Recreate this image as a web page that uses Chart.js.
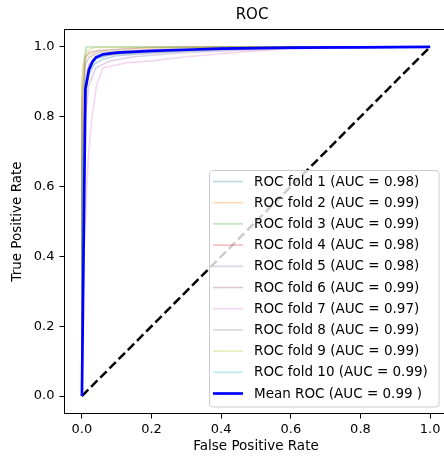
<!DOCTYPE html>
<html>
<head>
<meta charset="utf-8">
<script src="https://cdn.jsdelivr.net/npm/chart.js@4.4.1/dist/chart.umd.min.js"></script>
<style>
  html, body { margin: 0; padding: 0; background: #fff; overflow: hidden; }
  canvas { display: block; }
</style>
</head>
<body>
<canvas id="myChart" width="452" height="462"></canvas>
<script>
// ROC points per fold, [fpr, tpr]
const fold1 = [[0,0],[0,0.55],[0.005,0.75],[0.01,0.86],[0.02,0.92],[0.035,0.95],[0.06,0.965],[0.1,0.975],[0.2,0.982],[0.3,0.988],[0.5,0.995],[0.7,1],[1,1]];
const fold2 = [[0,0],[0,0.9],[0.005,0.95],[0.01,0.97],[0.02,0.98],[0.05,0.99],[0.15,0.995],[0.3,1],[1,1]];
const fold3 = [[0,0],[0,0.3],[0.008,0.97],[0.012,1],[1,1]];
const fold4 = [[0,0],[0,0.7],[0.01,0.9],[0.02,0.95],[0.04,0.97],[0.1,0.98],[0.3,0.99],[0.6,1],[1,1]];
const fold5 = [[0,0],[0,0.4],[0.01,0.8],[0.02,0.89],[0.04,0.94],[0.08,0.96],[0.15,0.972],[0.3,0.984],[0.5,0.992],[0.8,1],[1,1]];
const fold6 = [[0,0],[0,0.8],[0.01,0.95],[0.02,0.97],[0.05,0.985],[0.15,0.99],[0.4,1],[1,1]];
const fold7 = [[0,0],[0,0.3],[0.01,0.5],[0.018,0.68],[0.028,0.79],[0.042,0.89],[0.06,0.94],[0.13,0.955],[0.2,0.96],[0.3,0.972],[0.45,0.985],[0.6,0.995],[1,1]];
const fold8 = [[0,0],[0,0.85],[0.01,0.97],[0.02,0.985],[0.05,0.99],[0.2,1],[1,1]];
const fold9 = [[0,0],[0,0.88],[0.005,0.96],[0.015,0.99],[0.04,1],[1,1]];
const fold10 = [[0,0],[0,0.6],[0.01,0.86],[0.02,0.93],[0.04,0.965],[0.08,0.978],[0.2,0.987],[0.4,0.995],[0.7,1],[1,1]];
const meanRoc = [[0,0],[0.0101,0.88],[0.0202,0.935],[0.0303,0.958],[0.0404,0.97],[0.0606,0.979],[0.101,0.984],[0.2,0.989],[0.3,0.992],[0.4,0.995],[0.6,0.998],[0.8,0.999],[1,1]];
const chance = [[0,0],[1,1]];

const folds = [fold1, fold2, fold3, fold4, fold5, fold6, fold7, fold8, fold9, fold10];
const foldAuc = [0.98, 0.99, 0.99, 0.98, 0.98, 0.99, 0.97, 0.99, 0.99, 0.99];
const meanAuc = 0.99;
const foldColors = ['#1f77b4', '#ff7f0e', '#2ca02c', '#d62728', '#9467bd', '#8c564b', '#e377c2', '#7f7f7f', '#bcbd22', '#17becf'];
const xTicks = [0, 0.2, 0.4, 0.6, 0.8, 1.0];
const yTicks = [0, 0.2, 0.4, 0.6, 0.8, 1.0];

const FONT = 'DejaVu Sans';

function alpha(hex, a) {
    const n = parseInt(hex.slice(1), 16);
    return `rgba(${(n >> 16) & 255}, ${(n >> 8) & 255}, ${n & 255}, ${a})`;
}
const toXY = pts => pts.map(p => ({ x: p[0], y: p[1] }));

const datasets = folds.map((f, i) => ({
    label: `ROC fold ${i + 1} (AUC = ${foldAuc[i].toFixed(2)})`,
    data: toXY(f),
    borderColor: alpha(foldColors[i], 0.3),
    borderWidth: 1.6,
    order: 12 - i
}));
datasets.push({
    label: '',
    data: toXY(chance),
    borderColor: '#000',
    borderWidth: 2.5,
    borderDash: [9, 4],
    order: 1
});
datasets.push({
    label: `Mean ROC (AUC = ${meanAuc.toFixed(2)} )`,
    data: toXY(meanRoc),
    borderColor: '#0000ff',
    borderWidth: 2.7,
    order: 0
});

// axes frame + title
const framePlugin = {
    id: 'frame',
    afterDraw(chart) {
        const { ctx, chartArea: { left, top, right, bottom } } = chart;
        ctx.save();
        ctx.strokeStyle = '#000';
        ctx.lineWidth = 1;
        ctx.strokeRect(left, top, right - left, bottom - top);
        ctx.fillStyle = '#000';
        ctx.font = `15px "${FONT}"`;
        ctx.textAlign = 'center';
        ctx.textBaseline = 'middle';
        ctx.fillText('ROC', 252, 15);
        ctx.restore();
    }
};

// matplotlib style legend, lower right inside the axes
const legendPlugin = {
    id: 'mplLegend',
    afterDatasetsDraw(chart) {
        const { ctx } = chart;
        const items = chart.data.datasets.filter(d => d.label);
        const bx = 209.5, by = 170.5, bw = 229.5, bh = 236.5, r = 3;
        ctx.save();
        ctx.beginPath();
        ctx.moveTo(bx + r, by);
        ctx.arcTo(bx + bw, by, bx + bw, by + bh, r);
        ctx.arcTo(bx + bw, by + bh, bx, by + bh, r);
        ctx.arcTo(bx, by + bh, bx, by, r);
        ctx.arcTo(bx, by, bx + bw, by, r);
        ctx.closePath();
        ctx.fillStyle = 'rgba(255,255,255,0.8)';
        ctx.fill();
        ctx.strokeStyle = '#cccccc';
        ctx.lineWidth = 1;
        ctx.stroke();

        ctx.font = `13.5px "${FONT}"`;
        ctx.textBaseline = 'middle';
        ctx.textAlign = 'left';
        items.forEach((d, i) => {
            const y = 181.5 + i * 21.2;
            ctx.beginPath();
            ctx.moveTo(213, y);
            ctx.lineTo(243, y);
            ctx.strokeStyle = d.borderColor;
            ctx.lineWidth = d.borderWidth;
            ctx.setLineDash([]);
            ctx.stroke();
            ctx.fillStyle = '#000';
            ctx.fillText(d.label, 254, y + 0.5);
        });
        ctx.restore();
    }
};

new Chart(document.getElementById('myChart'), {
    type: 'scatter',
    data: { datasets },
    plugins: [framePlugin, legendPlugin],
    options: {
        responsive: false,
        animation: false,
        devicePixelRatio: 1,
        showLine: true,
        layout: { padding: { left: 0, top: 29.5, right: 4.5, bottom: 0 } },
        elements: {
            point: { radius: 0, hoverRadius: 0 },
            line: { tension: 0, fill: false }
        },
        plugins: {
            legend: { display: false },
            title: { display: false },
            tooltip: { enabled: false }
        },
        scales: {
            x: {
                type: 'linear',
                min: -0.05,
                max: 1.05,
                afterBuildTicks: s => { s.ticks = xTicks.map(v => ({ value: v })); },
                afterFit: s => { s.height = 48.5; },
                ticks: {
                    color: '#000',
                    font: { family: FONT, size: 13 },
                    padding: 3,
                    maxRotation: 0,
                    callback: v => v.toFixed(1)
                },
                grid: { drawOnChartArea: false, drawTicks: true, tickLength: 5, tickColor: '#000' },
                border: { display: true, color: '#000' },
                title: {
                    display: true,
                    text: 'False Positive Rate',
                    color: '#000',
                    font: { family: FONT, size: 13.5 },
                    padding: { top: 0, bottom: 7 }
                }
            },
            y: {
                type: 'linear',
                min: -0.05,
                max: 1.05,
                afterBuildTicks: s => { s.ticks = yTicks.map(v => ({ value: v })); },
                afterFit: s => { s.width = 64.5; },
                ticks: {
                    color: '#000',
                    font: { family: FONT, size: 13 },
                    padding: 5,
                    callback: v => v.toFixed(1)
                },
                grid: { drawOnChartArea: false, drawTicks: true, tickLength: 5, tickColor: '#000' },
                border: { display: true, color: '#000' },
                title: {
                    display: true,
                    text: 'True Positive Rate',
                    color: '#000',
                    font: { family: FONT, size: 13.5 },
                    padding: { top: 9, bottom: 0 }
                }
            }
        }
    }
});
</script>
</body>
</html>
